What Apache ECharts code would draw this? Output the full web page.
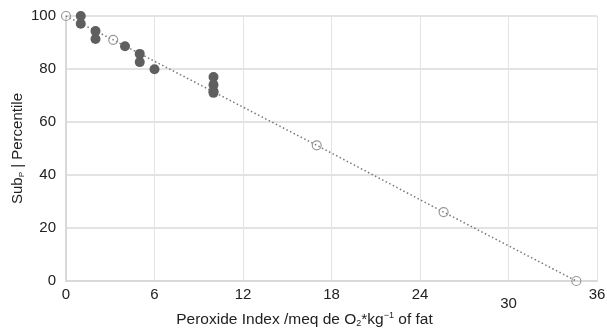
<!DOCTYPE html>
<html><head><meta charset="utf-8">
<script src="https://cdn.jsdelivr.net/npm/echarts@6/dist/echarts.min.js"></script>
<style>html,body{margin:0;padding:0;background:#fff}#c{width:607px;height:333px}</style>
</head><body><div id="c"></div>
<script>
const lineX = [0, 3.2, 17, 25.6, 34.6];
const lineY = [100, 91, 51.2, 26, 0];
const dotX = [1, 1, 2, 2, 4, 5, 5, 6, 10, 10, 10, 10];
const dotY = [100, 97.1, 94.3, 91.3, 88.6, 85.7, 82.6, 79.9, 77, 74, 71.6, 71];
const xTicks = [0, 6, 12, 18, 24, 30, 36];
const yTicks = [0, 20, 40, 60, 80, 100];

const FONT = '"Liberation Sans", Arial, sans-serif';
const chart = echarts.init(document.getElementById('c'));
chart.setOption({
  animation: false,
  grid: {left: 66, right: 10, top: 16, bottom: 52, containLabel: false, outerBoundsMode: 'none'},
  xAxis: {
    type: 'value', min: xTicks[0], max: xTicks[xTicks.length-1], interval: 6,
    axisLine: {show: true, lineStyle: {color: '#d9d9d9', width: 2}},
    axisTick: {show: false},
    splitLine: {show: true, lineStyle: {color: '#e3e3e3', width: 1}},
    axisLabel: {
      margin: 6, color: '#222', fontFamily: FONT, fontSize: 15,
      formatter: v => v === 30 ? '{low|30}' : String(v),
      rich: {low: {padding: [9, 0, 0, 0], fontFamily: FONT, fontSize: 15, color: '#222'}}
    },
    name: 'Peroxide Index /meq de O{sub|2}*kg{sup|−1} of fat',
    nameLocation: 'middle', nameGap: 30, nameMoveOverlap: false,
    nameTextStyle: {
      color: '#222', fontFamily: FONT, fontSize: 15.5, padding: [0, 54, 0, 0],
      rich: {
        sub: {fontSize: 9, fontFamily: FONT, color: '#222', verticalAlign: 'bottom', padding: [8, 0, 0, 0]},
        sup: {fontSize: 9, fontFamily: FONT, color: '#222', verticalAlign: 'top', padding: [0, 0, 6, 0]}
      }
    }
  },
  yAxis: {
    type: 'value', min: yTicks[0], max: yTicks[yTicks.length-1], interval: 20,
    axisLine: {show: true, lineStyle: {color: '#d9d9d9', width: 2}},
    axisTick: {show: false},
    splitLine: {show: true, lineStyle: {color: '#e3e3e3', width: 2}},
    axisLabel: {margin: 10, color: '#222', fontFamily: FONT, fontSize: 15},
    name: 'Sub{sub|P} | Percentile',
    nameLocation: 'middle', nameGap: 40, nameMoveOverlap: false,
    nameTextStyle: {
      color: '#222', fontFamily: FONT, fontSize: 15,
      rich: {sub: {fontSize: 8, fontFamily: FONT, color: '#222', verticalAlign: 'bottom', padding: [8, 0, 0, 0]}}
    }
  },
  series: [
    {
      type: 'line', data: lineX.map((x, i) => [x, lineY[i]]),
      symbol: 'circle', symbolSize: 9,
      lineStyle: {color: '#777', width: 1.5, type: [1.5, 2.5]},
      itemStyle: {color: 'rgba(0,0,0,0)', borderColor: '#999', borderWidth: 1.2},
      z: 2
    },
    {
      type: 'scatter', data: dotX.map((x, i) => [x, dotY[i]]),
      symbol: 'circle', symbolSize: 10,
      itemStyle: {color: '#5f5f5f', opacity: 1},
      z: 3
    }
  ]
});
</script></body></html>
